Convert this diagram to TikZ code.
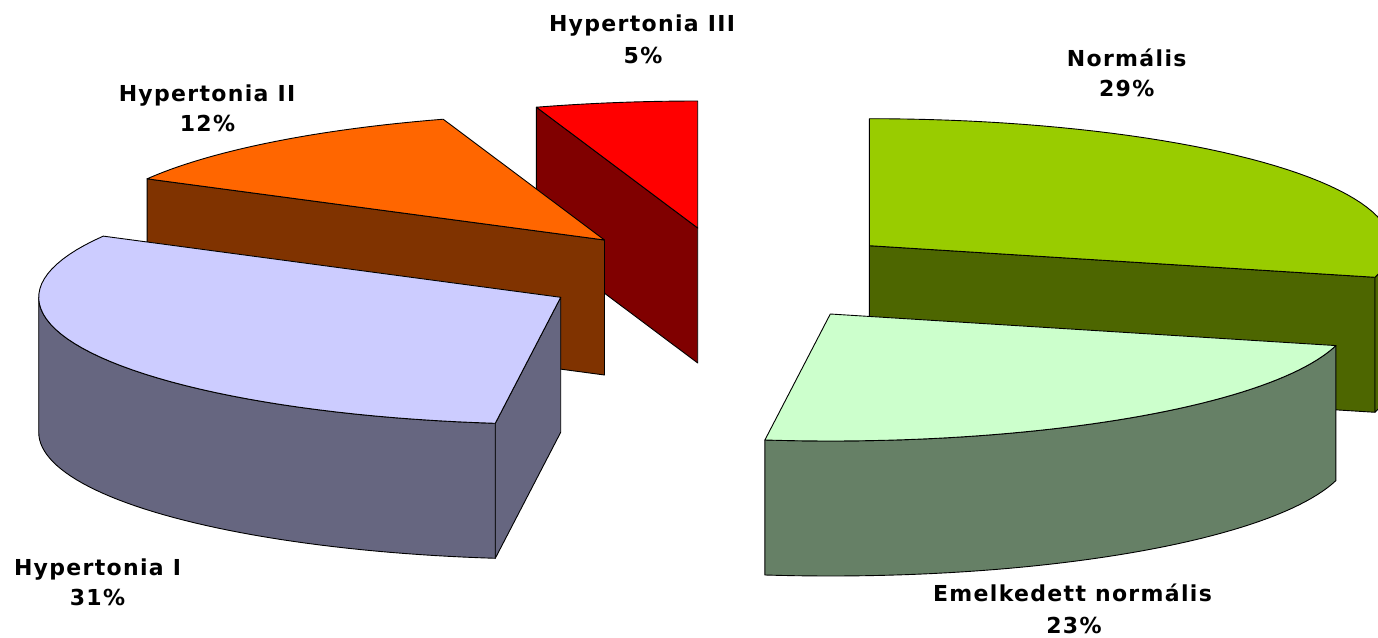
\documentclass[tikz,border=0pt]{standalone}
\usepackage{fontspec}
\setmainfont{DejaVu Sans}
\newfontfamily\lblfont[LetterSpace=6]{DejaVu Sans}
\definecolor{redtop}{HTML}{FF0000}
\definecolor{redside}{HTML}{800000}
\definecolor{orangetop}{HTML}{FF6600}
\definecolor{orangeside}{HTML}{803300}
\definecolor{bluetop}{HTML}{CCCCFF}
\definecolor{blueside}{HTML}{666680}
\definecolor{greentop}{HTML}{99CC00}
\definecolor{greenside}{HTML}{4D6600}
\definecolor{lgtop}{HTML}{CCFFCC}
\definecolor{lgside}{HTML}{668066}
\def\piea{522}
\def\pieb{127}
\def\pieh{135}
% top face: cx cy start end colour
\newcommand\pietop[5]{%
  \filldraw[fill=#5,pieline] (#1,#2) -- plot[domain=#3:#4,samples=50] ({#1+\piea*cos(\x)},{#2-\pieb*sin(\x)}) -- cycle;}
% curved outer face: cx cy start end colour
\newcommand\pieside[5]{%
  \filldraw[fill=#5,pieline] plot[domain=#3:#4,samples=50] ({#1+\piea*cos(\x)},{#2-\pieb*sin(\x)})
    -- plot[domain=#3:#4,samples=50] ({#1+\piea*cos(#3+#4-\x)},{#2+\pieh-\pieb*sin(#3+#4-\x)}) -- cycle;}
% radial cut face: cx cy angle colour
\newcommand\piecut[4]{%
  \filldraw[fill=#4,pieline] ({#1},{#2}) -- ({#1+\piea*cos(#3)},{#2-\pieb*sin(#3)})
    -- ({#1+\piea*cos(#3)},{#2+\pieh-\pieb*sin(#3)}) -- ({#1},{#2+\pieh}) -- cycle;}
\tikzset{
  pieline/.style={draw=black,line width=0.9pt,line join=round},
  lbl/.style={anchor=base,inner sep=0pt,font=\lblfont\fontsize{22}{26}\selectfont\bfseries}
}
\begin{document}
\begin{tikzpicture}[x=1pt,y=-1pt]
\path[use as bounding box,fill=white] (0,0) rectangle (1378,637);
\begin{scope}
\clip (0,0) rectangle (1378,637);
% Hypertonia III (red)
\piecut{697.7}{228}{108}{redside}
\pietop{697.7}{228}{90}{108}{redtop}
% Hypertonia II (orange)
\piecut{604.5}{240}{151.2}{orangeside}
\pietop{604.5}{240}{108}{151.2}{orangetop}
% Hypertonia I (blue)
\piecut{560.7}{297.3}{262.8}{blueside}
\pieside{560.7}{297.3}{180}{262.8}{blueside}
\pietop{560.7}{297.3}{151.2}{262.8}{bluetop}
% Normalis (green)
\piecut{869.4}{245.7}{345.6}{greenside}
\pieside{869.4}{245.7}{345.6}{360}{greenside}
\pietop{869.4}{245.7}{345.6}{450}{greentop}
% Emelkedett normalis (light green)
\pieside{830.3}{314}{262.8}{345.6}{lgside}
\pietop{830.3}{314}{262.8}{345.6}{lgtop}
\end{scope}
% labels
\node[lbl] (h3a) at (642,31.7) {Hypertonia III};
\node[lbl] (h3b) at (643,63.3) {5\%};
\node[lbl] (h2a) at (207,101.7) {Hypertonia II};
\node[lbl] (h2b) at (207.5,131.7) {12\%};
\node[lbl] (h1a) at (97.5,575) {Hypertonia I};
\node[lbl] (h1b) at (97.5,605) {31\%};
\node[lbl] (na) at (1126.7,66.7) {Normális};
\node[lbl] (nb) at (1126.7,96.7) {29\%};
\node[lbl] (ea) at (1072.5,601.7) {Emelkedett normális};
\node[lbl] (eb) at (1074,633) {23\%};
\end{tikzpicture}
\end{document}
